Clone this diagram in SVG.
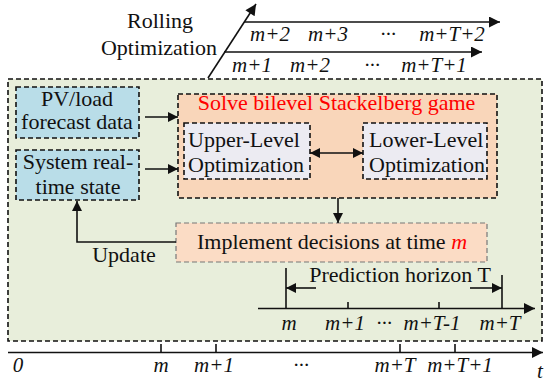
<svg xmlns="http://www.w3.org/2000/svg" width="550" height="385" viewBox="0 0 550 385">
<defs>
<style>
text{font-family:"Liberation Serif","Times New Roman",serif;fill:#111;}
.t{font-size:22px;}
.lbl{font-size:21px;font-style:italic;text-anchor:middle;}
.c{text-anchor:middle;}
.box{stroke:#111;stroke-width:1.6;stroke-dasharray:5 3;}
.ln{stroke:#111;stroke-width:1.6;fill:none;}
</style>
<marker id="ah" viewBox="0 0 10 10" refX="10" refY="5" markerWidth="12" markerHeight="10" markerUnits="userSpaceOnUse" orient="auto-start-reverse">
<path d="M0,0 L10,5 L0,10 Z" fill="#111"/>
</marker>
<marker id="ahb" viewBox="0 0 10 10" refX="10" refY="5" markerWidth="14" markerHeight="11" markerUnits="userSpaceOnUse" orient="auto">
<path d="M0,0 L10,5 L0,10 Z" fill="#111"/>
</marker>
</defs>
<rect width="550" height="385" fill="#ffffff"/>

<g id="frame">
<rect x="8" y="79" width="534" height="262" fill="#e8eedb" class="box"/>
</g>

<g id="rolling">
<text class="t c" x="160" y="28">Rolling</text>
<text class="t c" x="159" y="55">Optimization</text>
<text class="lbl" x="270" y="41">m+2</text>
<text class="lbl" x="328" y="41">m+3</text>
<text class="lbl" x="388" y="41">···</text>
<text class="lbl" x="452" y="41">m+T+2</text>
<text class="lbl" x="252" y="72">m+1</text>
<text class="lbl" x="310" y="72">m+2</text>
<text class="lbl" x="372" y="72">···</text>
<text class="lbl" x="434" y="72">m+T+1</text>
</g>

<g id="pv">
<rect x="16" y="87" width="123" height="51" fill="#b9dde8" class="box"/>
<text class="t c" x="77" y="106">PV/load</text>
<text class="t c" x="77" y="129">forecast data</text>
</g>

<g id="state">
<rect x="16" y="150" width="123" height="50" fill="#b9dde8" class="box"/>
<text class="t c" x="78" y="169">System real-</text>
<text class="t c" x="78" y="194">time state</text>
</g>

<g id="solve">
<rect x="178" y="94" width="319" height="104" fill="#f9d6ba" class="box"/>
<text class="t c" x="336.5" y="110" style="fill:#ff0000">Solve bilevel Stackelberg game</text>
</g>

<g id="upper">
<rect x="184" y="123" width="126" height="56" fill="#ecebf2" class="box"/>
<text class="t" x="188" y="147">Upper-Level</text>
<text class="t" x="188" y="172">Optimization</text>
</g>

<g id="lower">
<rect x="363" y="123" width="124" height="56" fill="#ecebf2" class="box"/>
<text class="t" x="369" y="147">Lower-Level</text>
<text class="t" x="369" y="172">Optimization</text>
</g>

<g id="implement">
<rect x="176" y="223" width="311" height="39" fill="#fbdcc5" stroke="#777" stroke-width="1.2" stroke-dasharray="5 3"/>
<text class="t c" x="332" y="249">Implement decisions at time <tspan style="font-style:italic;fill:#ff0000">m</tspan></text>
</g>

<g id="horizon">
<text class="t c" x="400" y="282">Prediction horizon T</text>
<text class="lbl" x="289" y="330">m</text>
<text class="lbl" x="345" y="330">m+1</text>
<text class="lbl" x="384" y="330">···</text>
<text class="lbl" x="432" y="330">m+T-1</text>
<text class="lbl" x="500" y="330">m+T</text>
</g>

<g id="timeline">
<text class="lbl" x="18" y="372">0</text>
<text class="lbl" x="161" y="372">m</text>
<text class="lbl" x="214" y="372">m+1</text>
<text class="lbl" x="301" y="372">···</text>
<text class="lbl" x="395" y="372">m+T</text>
<text class="lbl" x="460" y="372">m+T+1</text>
<text class="lbl" x="540" y="378">t</text>
</g>

<g id="connectors">
<line class="ln" x1="208" y1="78" x2="256" y2="4" stroke-width="2" marker-end="url(#ahb)"/>
<line class="ln" x1="244" y1="22" x2="500" y2="22" stroke-width="2" marker-end="url(#ahb)"/>
<line class="ln" x1="224" y1="52" x2="482" y2="52" stroke-width="2" marker-end="url(#ahb)"/>
<line class="ln" x1="145" y1="117" x2="178" y2="117" marker-end="url(#ah)"/>
<line class="ln" x1="145" y1="169" x2="178" y2="169" marker-end="url(#ah)"/>
<line class="ln" x1="310" y1="153" x2="363" y2="153" marker-start="url(#ah)" marker-end="url(#ah)"/>
<line class="ln" x1="338" y1="198" x2="338" y2="223" marker-end="url(#ah)"/>
<polyline class="ln" points="176,242 77,242 77,201" stroke-width="1.3" marker-end="url(#ah)"/>
<text class="t c" x="124" y="262">Update</text>
<line class="ln" x1="316" y1="288" x2="286" y2="288" marker-end="url(#ah)"/>
<line class="ln" x1="470" y1="288" x2="502" y2="288" marker-end="url(#ah)"/>
<line class="ln" x1="258" y1="308.5" x2="535" y2="308.5" stroke-width="2" marker-end="url(#ahb)"/>
<line class="ln" x1="286" y1="268" x2="286" y2="308"/>
<line class="ln" x1="502" y1="275" x2="502" y2="308"/>
<line class="ln" x1="348" y1="302" x2="348" y2="308"/>
<line class="ln" x1="439" y1="302" x2="439" y2="308"/>
<line class="ln" x1="8" y1="352.5" x2="543" y2="352.5" stroke-width="3" marker-end="url(#ahb)"/>
<line class="ln" x1="161" y1="344" x2="161" y2="352"/>
<line class="ln" x1="216" y1="344" x2="216" y2="352"/>
<line class="ln" x1="400" y1="344" x2="400" y2="352"/>
<line class="ln" x1="455" y1="344" x2="455" y2="352"/>
</g>
</svg>
